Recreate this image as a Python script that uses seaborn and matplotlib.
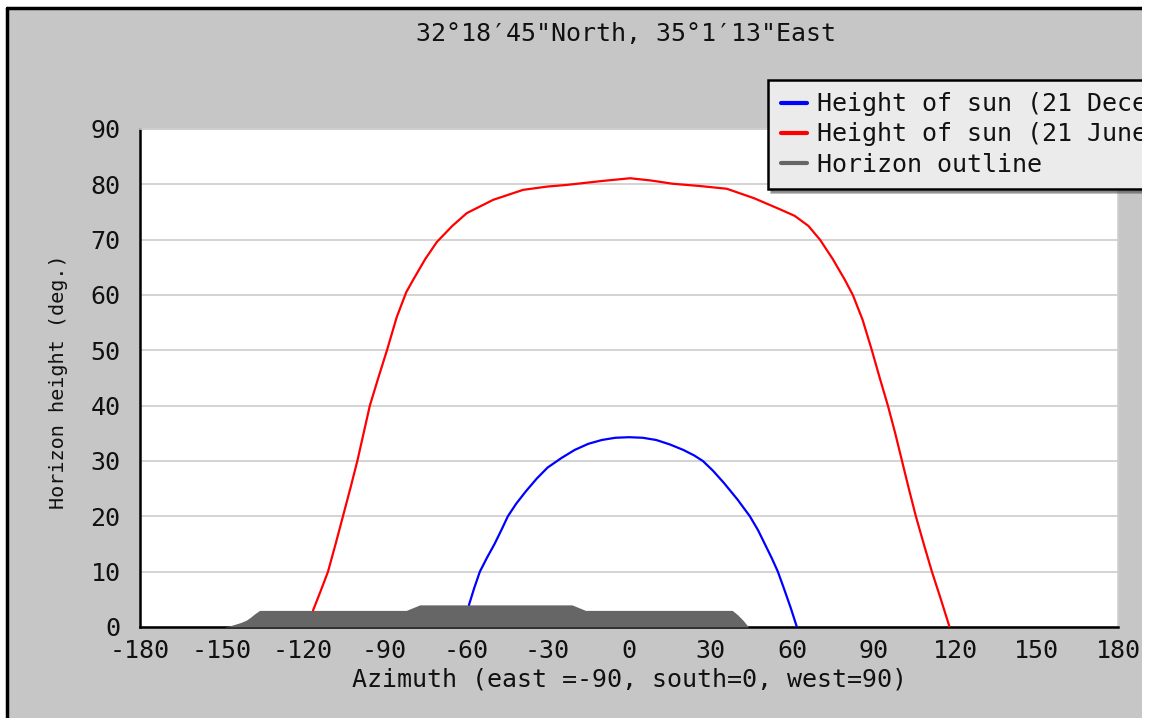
import matplotlib
matplotlib.use("Agg")
import matplotlib.pyplot as plt
import seaborn as sns
import pandas as pd
from matplotlib.patches import Rectangle
from matplotlib.lines import Line2D

# ---- data ----
az_june = [-116.3, -113.5, -110.8, -108.0, -105.3, -102.6, -100.0, -97.7, -95.4, -92.3, -89.1,
           -85.5, -82.0, -79.5, -75.0, -70.7, -65.0, -59.7, -50.0, -39.0, -30.0, -22.8, -10.0,
           0.4, 8.0, 16.2, 26.0, 36.0, 46.0, 55.5, 61.0, 66.0, 70.3, 75.0, 79.5, 82.4, 86.0,
           89.4, 92.3, 95.3, 98.0, 100.5, 103.0, 105.6, 108.5, 111.5, 114.8, 118.0]
alt_june = [3.0, 6.5, 10.0, 15.0, 20.0, 25.0, 30.0, 35.0, 40.0, 45.0, 50.0,
            56.0, 60.5, 62.7, 66.5, 69.6, 72.5, 74.8, 77.2, 79.0, 79.6, 79.9, 80.6,
            81.1, 80.7, 80.1, 79.7, 79.2, 77.5, 75.5, 74.3, 72.5, 70.0, 66.5, 62.7, 60.0, 55.5,
            50.0, 45.0, 40.0, 35.0, 30.0, 25.0, 20.0, 15.0, 10.0, 5.0, 0.0]

az_dec = [-58.9, -57.0, -54.9, -52.3, -49.5, -47.0, -44.6, -41.5, -38.0, -34.0, -30.0, -25.0,
          -20.0, -15.0, -10.0, -5.0, 0.0, 5.0, 10.0, 15.0, 20.0, 24.0, 27.2, 31.0, 35.0, 40.0,
          44.5, 47.5, 50.0, 52.5, 54.8, 57.0, 59.5, 61.8]
alt_dec = [4.0, 7.0, 10.0, 12.5, 15.0, 17.5, 20.0, 22.3, 24.5, 26.8, 28.8, 30.5,
           32.0, 33.1, 33.8, 34.2, 34.3, 34.2, 33.8, 33.0, 32.0, 31.0, 30.0, 28.2, 26.0, 23.0,
           20.0, 17.5, 15.0, 12.5, 10.0, 7.0, 3.5, 0.0]

az_hor = [-149, -147, -145, -143, -141, -139.5, -138, -136, -82, -77, -21, -16, 38, 40, 42, 44]
alt_hor = [0.0, 0.2, 0.5, 0.8, 1.2, 1.7, 2.3, 3.0, 3.0, 4.0, 4.0, 3.0, 3.0, 2.2, 1.2, 0.0]

labels = ["Height of sun (21 December)", "Height of sun (21 June)", "Horizon outline"]
title = "32°18′45\"North, 35°1′13\"East"
xlabel = "Azimuth (east =-90, south=0, west=90)"
ylabel = "Horizon height (deg.)"
xticks = list(range(-180, 181, 30))
yticks = list(range(0, 91, 10))

# ---- style ----
sns.set_style("white")
plt.rcParams["font.family"] = ["DejaVu Sans Mono", "DejaVu Sans"]
FS = 18
PANEL = "#C6C6C6"
TXT = "#111111"

W, H = 1150, 718
fig = plt.figure(figsize=(W / 100, H / 100), dpi=100)
fig.patch.set_facecolor("white")

# gray panel with black top/left border
fig.add_artist(Rectangle((7 / W, 0), (1142 - 7) / W, 1 - 8 / H, transform=fig.transFigure,
                         facecolor=PANEL, edgecolor="none", zorder=-10))
fig.add_artist(Line2D([7 / W, 7 / W], [0, 1 - 8 / H], transform=fig.transFigure,
                      color="black", lw=2.5, zorder=-9))
fig.add_artist(Line2D([7 / W, 1142 / W], [1 - 8 / H, 1 - 8 / H], transform=fig.transFigure,
                      color="black", lw=2.5, zorder=-9))

ax = fig.add_axes([140 / W, 1 - 627 / H, (1118 - 140) / W, (627 - 129) / H])
ax.set_facecolor("white")

df_dec = pd.DataFrame({"az": az_dec, "alt": alt_dec})
df_jun = pd.DataFrame({"az": az_june, "alt": alt_june})
df_hor = pd.DataFrame({"az": az_hor, "alt": alt_hor})

ax.fill_between(df_hor["az"], 0, df_hor["alt"], color="#666666", lw=0, zorder=3)
sns.lineplot(data=df_dec, x="az", y="alt", ax=ax, color="#0000FF", lw=1.6, sort=False,
             estimator=None, zorder=4)
sns.lineplot(data=df_jun, x="az", y="alt", ax=ax, color="#FF0000", lw=1.6, sort=False,
             estimator=None, zorder=4)

ax.set_xlim(-180, 180)
ax.set_ylim(0, 90)
ax.set_xticks(xticks)
ax.set_xticklabels([str(t) for t in xticks])
ax.set_yticks(yticks)
ax.set_yticklabels([str(t) for t in yticks])
ax.set_yticks(list(range(5, 90, 10)), minor=True)
ax.yaxis.grid(True, color="#CCCCCC", lw=1.2, zorder=0)
ax.set_axisbelow(True)

ax.tick_params(axis="both", which="major", direction="in", length=9, width=1.8,
               color="black", labelsize=FS, labelcolor=TXT)
ax.tick_params(axis="y", which="major", pad=14)
ax.tick_params(axis="x", which="major", pad=9)
ax.tick_params(axis="y", which="minor", direction="in", length=6, width=1.5, color="black")

for s in ["left", "bottom"]:
    ax.spines[s].set_color("black")
    ax.spines[s].set_linewidth(1.8)
for s in ["top", "right"]:
    ax.spines[s].set_color("#D0D0D0")
    ax.spines[s].set_linewidth(1.2)

ax.set_xlabel(xlabel, fontsize=FS, color=TXT)
ax.set_ylabel(ylabel, fontsize=14.5, color=TXT)
ax.xaxis.set_label_coords(0.5, -(679 - 627) / (627 - 129), transform=ax.transAxes)
ax.yaxis.set_label_coords(-(140 - 58) / (1118 - 140), (627 - 382) / (627 - 129),
                          transform=ax.transAxes)
ax.xaxis.label.set_va("center")
ax.yaxis.label.set_va("center")

fig.text(626 / W, 1 - 34 / H, title, ha="center", va="center", fontsize=FS, color=TXT)

handles = [Line2D([], [], color="#0000FF", lw=3),
           Line2D([], [], color="#FF0000", lw=3),
           Line2D([], [], color="#666666", lw=3)]
leg = ax.legend(handles, labels, loc="upper left",
                bbox_to_anchor=(768 / W, 1 - 80 / H), bbox_transform=fig.transFigure,
                fontsize=FS, frameon=True, fancybox=False, shadow={"color": "#555555"},
                handlelength=1.05, handletextpad=0.4, borderpad=0.5, labelspacing=0.24,
                borderaxespad=0)
leg.get_frame().set_facecolor("#EBEBEB")
leg.get_frame().set_edgecolor("black")
leg.get_frame().set_linewidth(1.8)
leg.get_frame().set_alpha(1)
leg.set_zorder(20)
for t in leg.get_texts():
    t.set_color(TXT)

# white strip at the right edge clipping the legend, as in the reference
fig.add_artist(Rectangle((1142 / W, 0), (W - 1142) / W, 1, transform=fig.transFigure,
                         facecolor="white", edgecolor="none", zorder=50))

fig.savefig("out.png", dpi=100)
